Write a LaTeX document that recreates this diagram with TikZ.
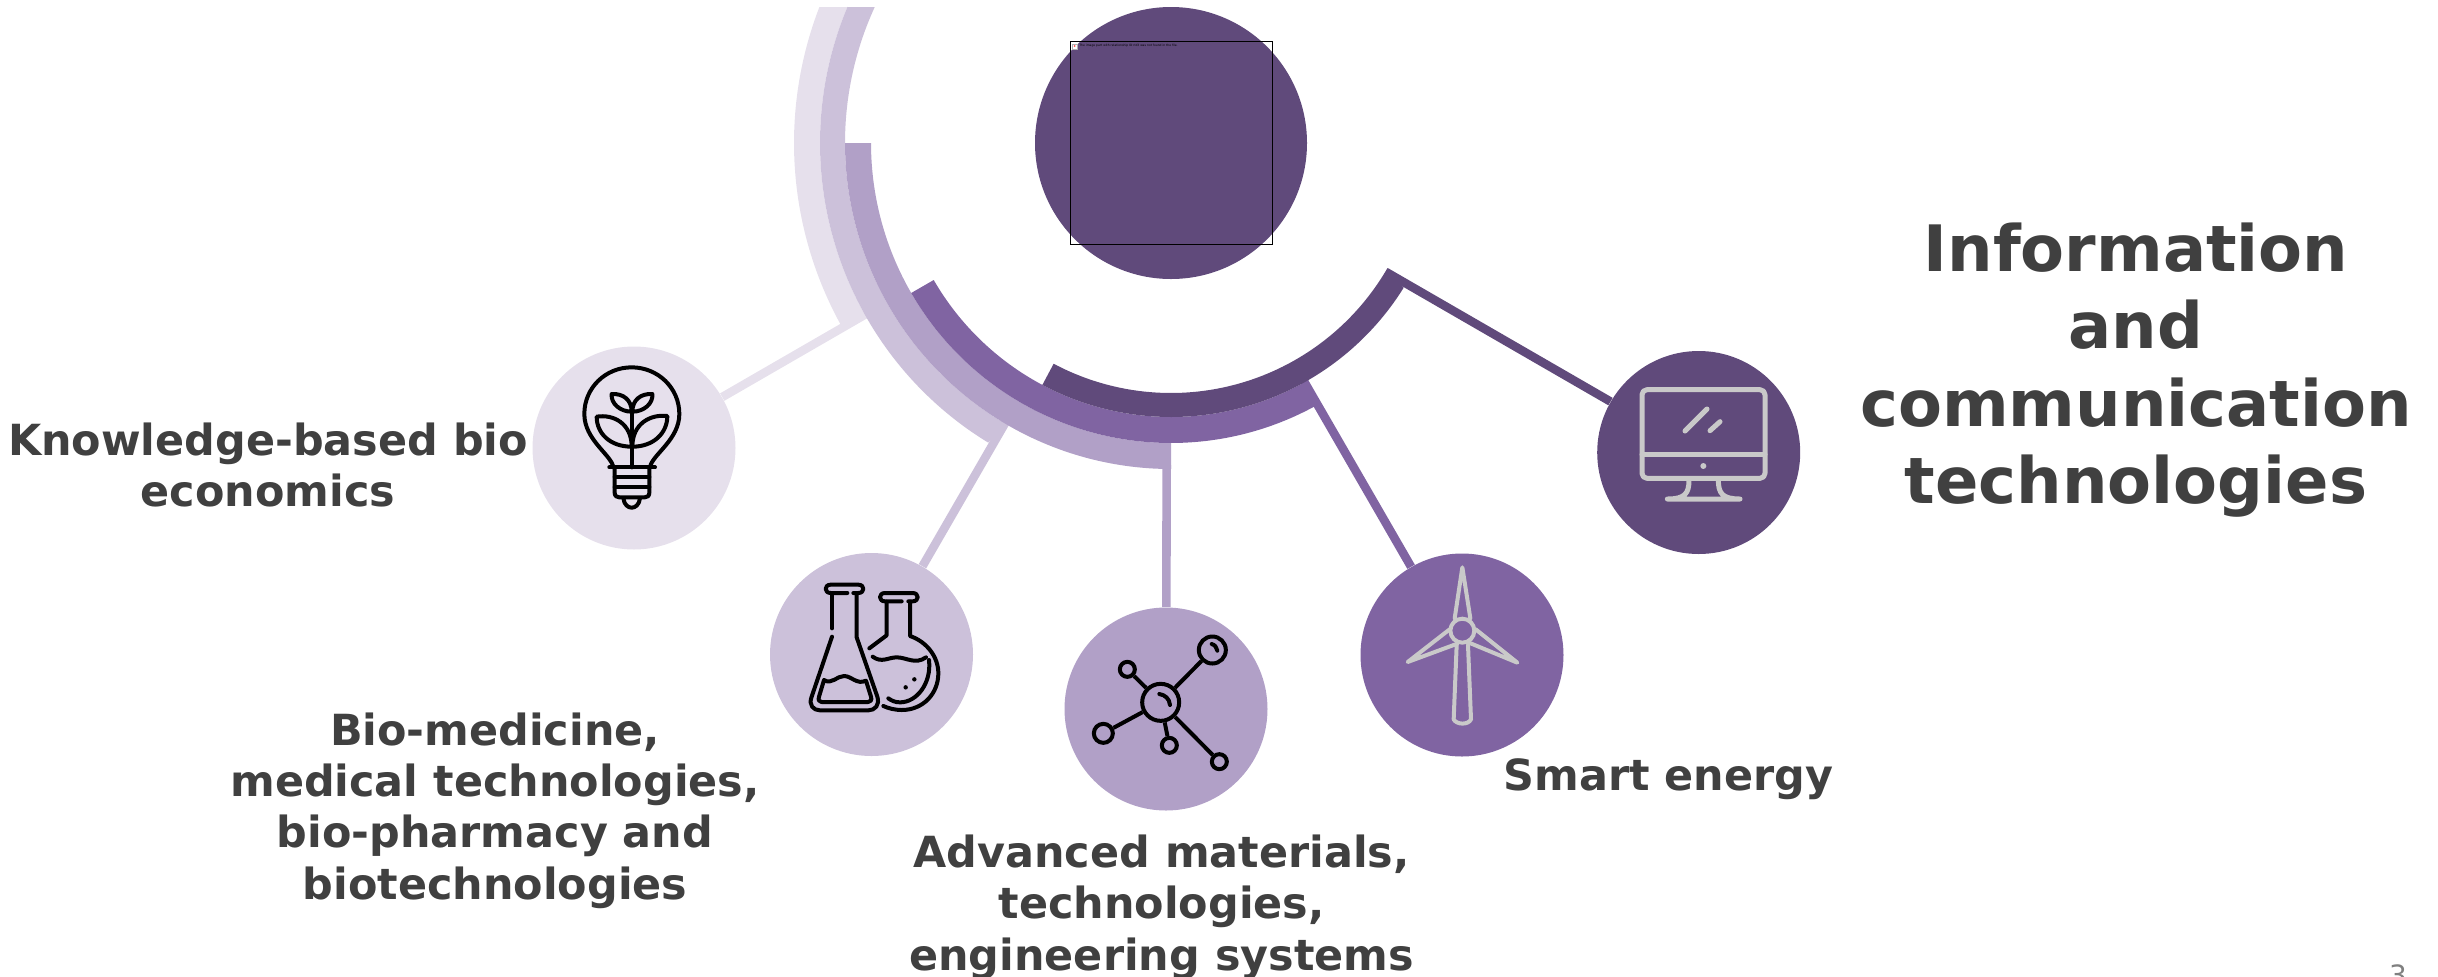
\documentclass[tikz,border=0pt]{standalone}
\usepackage{fontspec}
\setmainfont{DejaVu Sans}
\definecolor{cA}{HTML}{E6E0EC}
\definecolor{cB}{HTML}{CCC1DA}
\definecolor{cC}{HTML}{B1A0C7}
\definecolor{cD}{HTML}{8064A2}
\definecolor{cE}{HTML}{604A7B}
\definecolor{txt}{HTML}{404040}
\definecolor{ico}{HTML}{C9C9C9}
\newcommand{\ringfill}[7]{%
  \fill[#1] plot[domain=#4:#5,samples=90] ({1171+#3*cos(\x)},{143+#3*sin(\x)})
    -- plot[domain=#6:#7,samples=90] ({1171+#2*cos(\x)},{143+#2*sin(\x)}) -- cycle;}
\tikzset{
  disc/.style={circle,inner sep=0pt,minimum size=101.5pt},
  conn/.style={line width=4.3pt},
  lab/.style={text=txt,align=center,font=\bfseries\fontsize{21.45}{25.7}\selectfont,inner sep=0pt},
  ttl/.style={text=txt,align=center,font=\bfseries\fontsize{32}{38.6}\selectfont,inner sep=0pt},
  icb/.style={draw=black,line width=2pt,line cap=round,line join=round},
  icg/.style={draw=ico,line width=2pt,line cap=round,line join=round},
  atom/.style={circle,draw=black,line width=2pt,inner sep=0pt},
}
\begin{document}
\begin{tikzpicture}[x=0.5pt,y=-0.5pt]
\useasboundingbox (0,0) rectangle (2438,976);
% circles
\node[disc,fill=cE,minimum size=136pt] (hub) at (1171,143) {};
\node[disc,fill=cA] (c1) at (634,448) {};
\node[disc,fill=cB] (c2) at (871.5,654.5) {};
\node[disc,fill=cC] (c3) at (1166,709) {};
\node[disc,fill=cD] (c4) at (1462,655) {};
\node[disc,fill=cE] (c5) at (1698.7,452.5) {};
\coordinate (e1) at (867.8,313);
\coordinate (e2) at (1006.5,420.7);
\coordinate (e3) at (1166.7,465);
\coordinate (e4) at (1304,381.3);
\coordinate (e5) at (1386.1,272);
% rings and connectors
\draw[conn,cA] (e1) -- (c1);
\ringfill{cA}{351}{377}{201.14}{151.2}{150}{202.8}
\draw[conn,cB] (e2) -- (c2);
\ringfill{cB}{326}{351}{202.8}{121.4}{119.9}{204.66}
\draw[conn,cC] (e3) -- (c3);
\ringfill{cC}{300}{326}{180}{90}{90}{180}
\draw[conn,cD] (e4) -- (c4);
\ringfill{cD}{274}{300}{150}{61.5}{60}{150}
\draw[conn,cE] (e5) -- (c5);
\ringfill{cE}{250}{274}{118}{31.9}{30}{118}
% placeholder frame
\node[draw=black,line width=0.6pt,minimum width=101.3pt,minimum height=101.6pt,inner sep=0pt] (frame) at (1171.4,142.7) {};
\node[anchor=west,inner sep=0pt,text=black,font=\fontsize{1.5}{2}\selectfont] (ph) at (1079,45.5) {The image part with relationship ID rId3 was not found in the file.};
\node[draw=black!30,fill=white,line width=0.2pt,minimum width=2.2pt,minimum height=2.6pt,inner sep=0pt] (phi) at (1074.5,46.5) {};
\fill[red!70] (1074.5,46) circle (0.5pt);
% bulb
\begin{scope}[shift={(520,340)},x=0.16667pt,y=-0.16667pt]
\draw[icb] (280,382) .. controls (275,345) and (193,300) .. (193,222) .. controls (193,143) and (257,82) .. (335,82) .. controls (413,82) and (478,143) .. (478,222) .. controls (478,300) and (395,345) .. (390,382);
\draw[icb] (268,382) -- (405,382);
\draw[icb] (284,382) -- (284,458) .. controls (284,468) and (290,472) .. (298,472) -- (374,472) .. controls (382,472) and (388,468) .. (388,458) -- (388,382);
\draw[icb] (284,410) -- (388,410) (284,442) -- (388,442);
\draw[icb] (310,474) .. controls (312,495) and (325,503) .. (335,503) .. controls (345,503) and (358,495) .. (360,474);
\draw[icb] (335,382) -- (335,205);
\draw[icb] (335,215) .. controls (300,215) and (272,190) .. (275,162) .. controls (310,160) and (335,180) .. (335,215);
\draw[icb] (337,215) .. controls (372,215) and (400,190) .. (397,162) .. controls (362,160) and (337,180) .. (337,215);
\draw[icb] (335,320) .. controls (270,320) and (230,280) .. (230,230) .. controls (280,222) and (335,250) .. (335,320);
\draw[icb] (337,320) .. controls (400,320) and (442,280) .. (442,228) .. controls (392,222) and (337,250) .. (337,320);
\end{scope}
% flasks
\begin{scope}[shift={(760,550)},x=0.16667pt,y=-0.16667pt]
\draw[icb] (262,129) -- (212,129) .. controls (192,129) and (192,104) .. (212,104) -- (295,104) .. controls (315,104) and (315,129) .. (295,129) -- (280,129);
\draw[icb] (216,130) -- (216,235);
\draw[icb] (290,130) -- (290,262) -- (352,440) .. controls (360,465) and (345,481) .. (325,481) -- (180,481) .. controls (160,481) and (145,465) .. (155,440) -- (216,260);
\draw[icb] (192,390) .. controls (215,405) and (230,378) .. (252,378) .. controls (275,378) and (290,405) .. (318,392) -- (333,440) .. controls (336,450) and (332,456) .. (324,456) -- (185,456) .. controls (177,456) and (174,450) .. (177,440) -- cycle;
\draw[icb] (425,154) -- (375,154) .. controls (355,154) and (355,129) .. (375,129) -- (458,129) .. controls (478,129) and (478,154) .. (458,154) -- (445,154);
\draw[icb] (380,155) -- (380,256) -- (328,295);
\draw[icb] (450,155) -- (450,258) .. controls (500,275) and (535,320) .. (535,370) .. controls (535,430) and (490,480) .. (425,480) .. controls (405,480) and (385,475) .. (370,468);
\draw[icb] (338,320) .. controls (365,340) and (385,322) .. (410,322) .. controls (440,322) and (465,345) .. (498,322);
\draw[icb] (507,330) .. controls (515,400) and (470,457) .. (420,457) .. controls (405,457) and (395,452) .. (385,445);
\fill (463,388) circle (1.1pt) (437,412) circle (1.1pt);
\end{scope}
% molecule
\begin{scope}[shift={(1060,600)},x=0.16667pt,y=-0.16667pt]
\node[atom,minimum size=18.5pt] (m0) at (302,307) {};
\node[atom,minimum size=13.5pt] (m1) at (457,150) {};
\node[atom,minimum size=7.5pt] (m2) at (202,208) {};
\node[atom,minimum size=9.5pt] (m3) at (130,400) {};
\node[atom,minimum size=7.5pt] (m4) at (328,436) {};
\node[atom,minimum size=7.5pt] (m5) at (478,485) {};
\draw[black,line width=2pt] (m0) -- (m1) (m0) -- (m2) (m0) -- (m3) (m0) -- (m4) (m0) -- (m5);
\draw[icb] (298,282) .. controls (315,285) and (328,295) .. (330,315);
\draw[icb] (455,132) .. controls (465,135) and (470,142) .. (472,152);
\end{scope}
% turbine
\begin{scope}[shift={(1350,550)},x=0.16667pt,y=-0.16667pt]
\draw[icg] (337,242) circle (6pt);
\draw[icg] (314,205) -- (337,52) -- (361,205);
\draw[icg] (299,238) -- (173,336) -- (322,281);
\draw[icg] (377,238) -- (502,338) -- (357,278);
\draw[icg] (320,285) -- (311,508) .. controls (320,525) and (355,525) .. (363,508) -- (354,285);
\end{scope}
% monitor
\begin{scope}[shift={(1590,340)},x=0.16667pt,y=-0.16667pt]
\draw[icg,line width=2.5pt,rounded corners=2.5pt] (156,149) rectangle (525,415);
\draw[icg,line width=2.5pt] (156,343) -- (525,343);
\fill[ico] (340,378) circle (1.5pt);
\draw[icg,line width=2.5pt] (285,273) -- (351,207) (360,272) -- (390,245);
\draw[icg,line width=2.5pt] (297,420) .. controls (297,460) and (285,477) .. (232,477) -- (450,477) .. controls (397,477) and (385,460) .. (385,420);
\end{scope}
% texts
\node[ttl] (t0) at (2136,370) {Information\\and\\communication\\technologies};
\node[lab] (t1) at (268,465) {Knowledge-based bio\\economics};
\node[lab] (t2) at (495,810.5) {Bio-medicine,\\medical technologies,\\bio-pharmacy and\\biotechnologies};
\node[lab] (t3) at (1161.6,907) {Advanced materials,\\technologies,\\engineering systems};
\node[lab] (t4) at (1668.6,779) {Smart energy};
\node[anchor=north,inner sep=0pt,text=black!50,font=\fontsize{14}{16}\selectfont] (pg) at (2398,964) {3};
\end{tikzpicture}
\end{document}
